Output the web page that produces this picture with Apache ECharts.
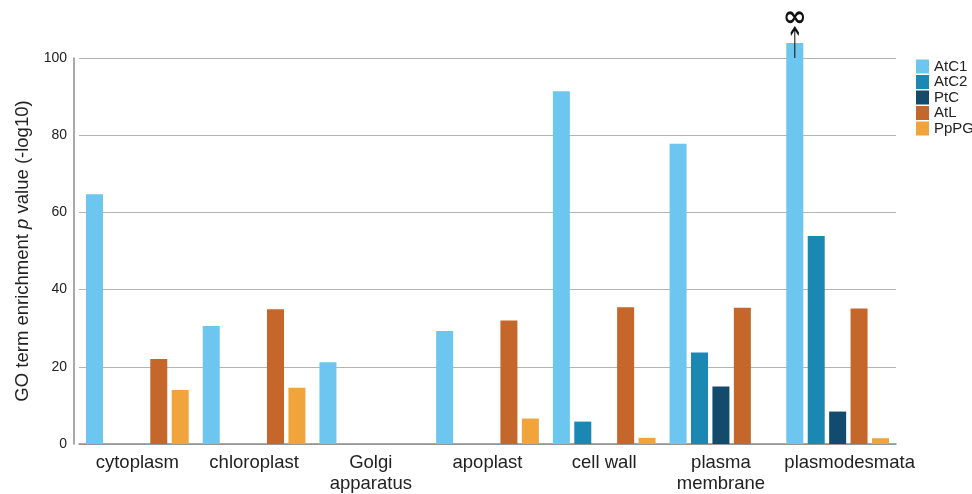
<!DOCTYPE html>
<html>
<head>
<meta charset="utf-8">
<script src="https://cdn.jsdelivr.net/npm/echarts@6/dist/echarts.min.js"></script>
<style>
  html, body { margin: 0; padding: 0; background: #fff; }
  #chart { width: 972px; height: 494px; }
</style>
</head>
<body>
<div id="chart"></div>
<script>
const categories = ["cytoplasm", "chloroplast", "Golgi\napparatus", "apoplast", "cell wall", "plasma\nmembrane", "plasmodesmata"];
const yTicks = [0, 20, 40, 60, 80, 100];

// -log10 p values per compartment
const atC1 = [64.7, 30.6, 21.2, 29.3, 91.4, 77.8, 103.9];
const atC2 = [0, 0, 0, 0, 5.8, 23.7, 53.9];
const ptC  = [0, 0, 0, 0, 0, 14.9, 8.4];
const atL  = [22.0, 34.9, 0, 32.0, 35.4, 35.3, 35.1];
const ppPG = [14.0, 14.6, 0, 6.6, 1.6, 0, 1.5];

const names = ["AtC1", "AtC2", "PtC", "AtL", "PpPG"];
const colors = ["#6cc6ef", "#1a88b2", "#124b6b", "#c5662a", "#f0a43b"];
const values = [atC1, atC2, ptC, atL, ppPG];

const chart = echarts.init(document.getElementById("chart"));

const series = names.map((n, i) => ({
  name: n,
  type: "bar",
  data: values[i],
  barWidth: 17,
  barGap: "26%",
  clip: false,
  itemStyle: { color: colors[i] },
}));

// the off-scale plasmodesmata bar gets an "infinity" arrow
series[0].markPoint = {
  symbol: "path://M4,2 L4,30 M0,7 L4,1 L8,7",
  symbolSize: [8, 30],
  symbolOffset: [0, "-50%"],
  itemStyle: { color: "rgba(0,0,0,0)", borderColor: "#111", borderWidth: 2 },
  label: {
    show: true,
    position: "top",
    distance: -7,
    formatter: "∞",
    fontSize: 29,
    fontWeight: "bold",
    color: "#111",
    fontFamily: "DejaVu Sans",
  },
  data: [{ coord: ["plasmodesmata", 100] }],
};

chart.setOption({
  backgroundColor: "#fff",
  animation: false,
  textStyle: { fontFamily: "Liberation Sans, Arial, sans-serif", color: "#222" },
  grid: { left: 79, right: 76, top: 58, bottom: 49 },
  legend: {
    data: names,
    orient: "vertical",
    left: 911,
    top: 54,
    itemWidth: 13,
    itemHeight: 14,
    itemGap: 0.5,
    icon: "rect",
    textStyle: { fontSize: 15, color: "#222", lineHeight: 15 },
  },
  xAxis: {
    type: "category",
    data: categories,
    axisLine: { lineStyle: { color: "#8c8c8c", width: 1.5 } },
    axisTick: { length: 5, lineStyle: { color: "#555", width: 1.5 } },
    axisLabel: {
      fontSize: 18.5,
      color: "#222",
      margin: 8,
      lineHeight: 21,
      interval: 0,
      formatter: (v) => (v === "plasmodesmata" ? "{s|" + v + "}" : v),
      rich: { s: { fontSize: 18.5, color: "#222", padding: [0, 0, 0, 24] } },
    },
  },
  yAxis: {
    type: "value",
    min: 0,
    max: 100,
    interval: 20,
    offset: 5,
    name: "{a|GO term enrichment }{i|p}{a| value (-log10)}",
    nameLocation: "middle",
    nameGap: 42,
    nameTextStyle: {
      rich: {
        a: { fontSize: 18.5, color: "#222" },
        i: { fontSize: 18.5, color: "#222", fontStyle: "italic" },
      },
    },
    axisLine: { show: true, lineStyle: { color: "#8c8c8c", width: 1.5 } },
    axisTick: { show: false },
    axisLabel: {
      fontSize: 14,
      color: "#222",
      margin: 7,
      customValues: yTicks,
    },
    splitLine: { lineStyle: { color: "#b4b4b4", width: 1.2 } },
  },
  series: series,
});
</script>
</body>
</html>
